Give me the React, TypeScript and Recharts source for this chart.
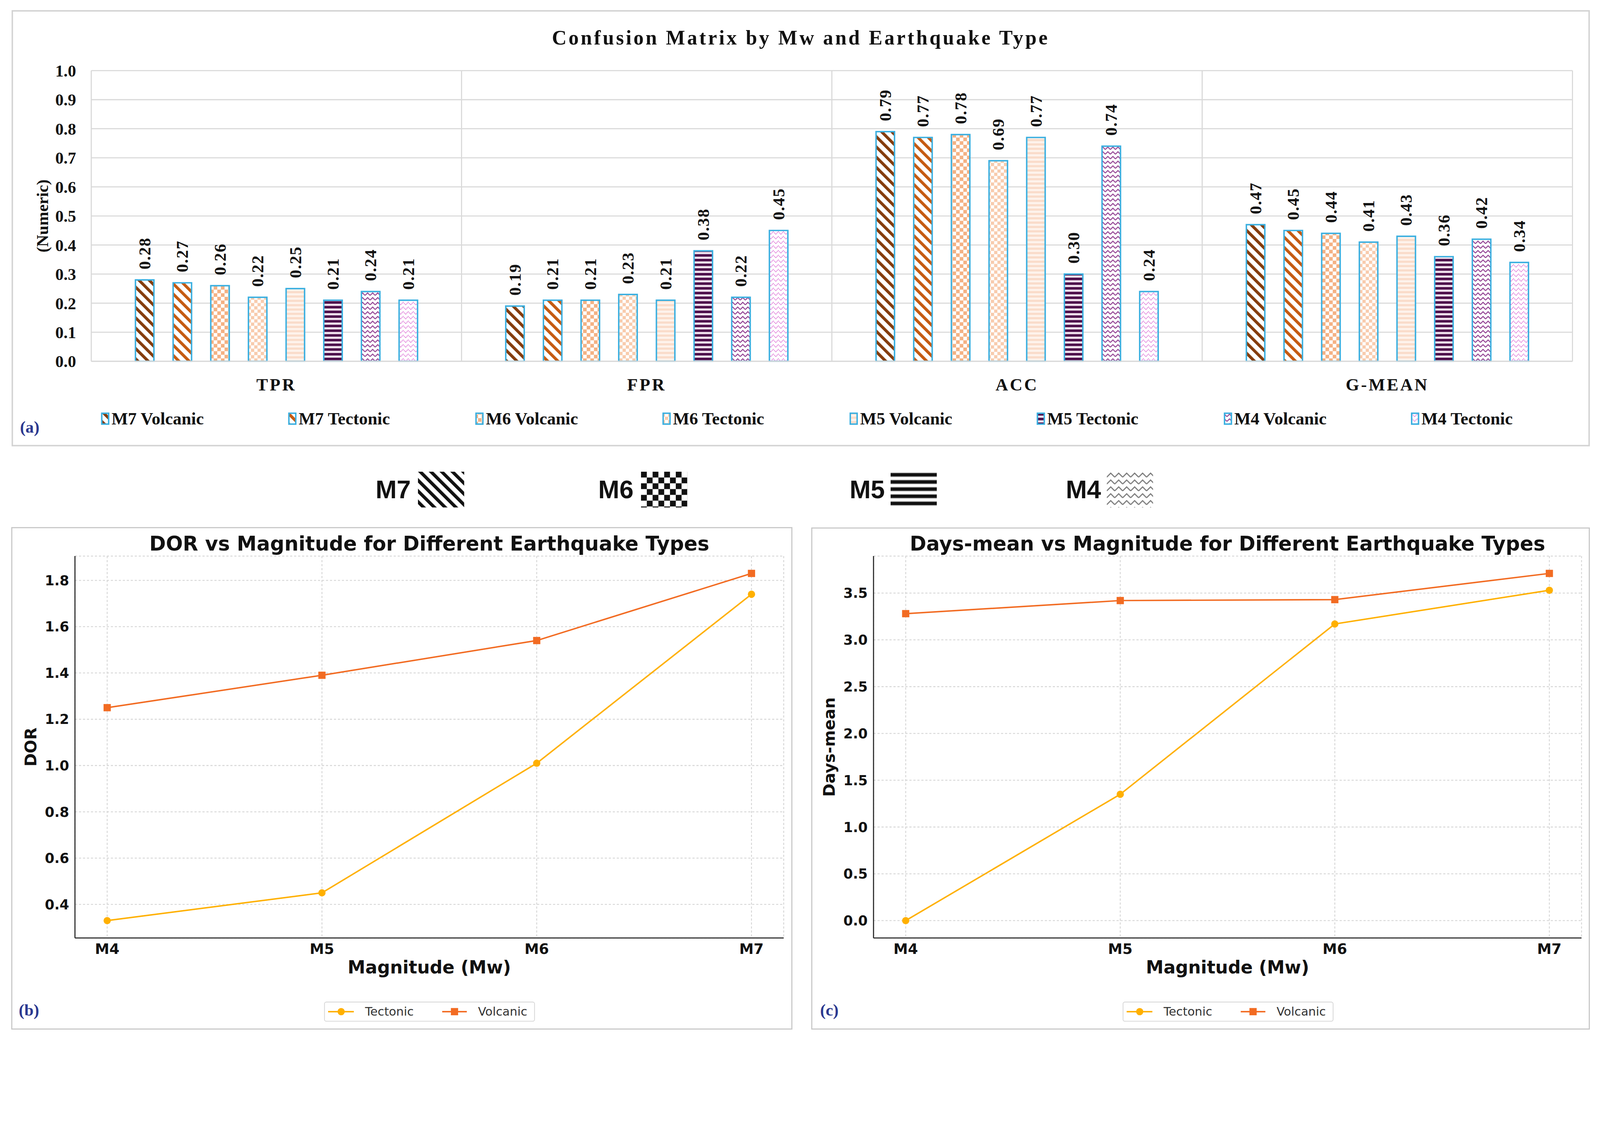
import React from 'react';
import {
  BarChart, Bar, XAxis, YAxis, CartesianGrid, LabelList, Legend, Label,
  LineChart, Line,
} from 'recharts';

// ---------------- data ----------------
const metrics = ['TPR', 'FPR', 'ACC', 'G-MEAN'];
const seriesNames = ['M7 Volcanic', 'M7 Tectonic', 'M6 Volcanic', 'M6 Tectonic', 'M5 Volcanic', 'M5 Tectonic', 'M4 Volcanic', 'M4 Tectonic'];
const m7Volcanic = [0.28, 0.19, 0.79, 0.47];
const m7Tectonic = [0.27, 0.21, 0.77, 0.45];
const m6Volcanic = [0.26, 0.21, 0.78, 0.44];
const m6Tectonic = [0.22, 0.23, 0.69, 0.41];
const m5Volcanic = [0.25, 0.21, 0.77, 0.43];
const m5Tectonic = [0.21, 0.38, 0.30, 0.36];
const m4Volcanic = [0.24, 0.22, 0.74, 0.42];
const m4Tectonic = [0.21, 0.45, 0.24, 0.34];
const barTicks = [0, 0.1, 0.2, 0.3, 0.4, 0.5, 0.6, 0.7, 0.8, 0.9, 1.0];

const magnitudes = ['M4', 'M5', 'M6', 'M7'];
const dorTectonic = [0.33, 0.45, 1.01, 1.74];
const dorVolcanic = [1.25, 1.39, 1.54, 1.83];
const daysTectonic = [0.0, 1.35, 3.17, 3.53];
const daysVolcanic = [3.28, 3.42, 3.43, 3.71];
const dorTicks = [0.4, 0.6, 0.8, 1.0, 1.2, 1.4, 1.6, 1.8];
const daysTicks = [0, 0.5, 1.0, 1.5, 2.0, 2.5, 3.0, 3.5];
const keyLabels = ['M7', 'M6', 'M5', 'M4'];

// ---------------- styles ----------------
const SERIF = "'Liberation Serif', 'Times New Roman', serif";
const SANS = "'DejaVu Sans', 'Liberation Sans', sans-serif";
const ARIAL = "'Liberation Sans', Arial, sans-serif";
const BAR_STROKE = '#3AAFE0';
const TECT = '#FFB000';
const VOLC = '#F26B22';
const NAVY = '#2B3990';
const seriesPatterns = ['pM7V', 'pM7T', 'pM6V', 'pM6T', 'pM5V', 'pM5T', 'pM4V', 'pM4T'];
const keyPatterns = ['kM7', 'kM6', 'kM5', 'kM4'];

const seriesValues = [m7Volcanic, m7Tectonic, m6Volcanic, m6Tectonic, m5Volcanic, m5Tectonic, m4Volcanic, m4Tectonic];
const barData = metrics.map((metric, i) => {
  const row: any = { metric };
  seriesNames.forEach((n, k) => { row[n] = seriesValues[k][i]; });
  return row;
});
const dorData = magnitudes.map((m, i) => ({ idx: i, mag: m, tectonic: dorTectonic[i], volcanic: dorVolcanic[i] }));
const daysData = magnitudes.map((m, i) => ({ idx: i, mag: m, tectonic: daysTectonic[i], volcanic: daysVolcanic[i] }));

const PatternDefs = () => (
  <svg width={0} height={0} style={{ position: 'absolute', left: 0, top: 0 }}>
    <defs>
      <pattern id="pM7V" patternUnits="userSpaceOnUse" width={20} height={20} patternTransform="rotate(-45)">
        <rect width={20} height={20} fill="#fff" />
        <rect width={8} height={20} fill="#843C0C" />
      </pattern>
      <pattern id="pM7T" patternUnits="userSpaceOnUse" width={20} height={20} patternTransform="rotate(-45)">
        <rect width={20} height={20} fill="#fff" />
        <rect width={8} height={20} fill="#C55A11" />
      </pattern>
      <pattern id="pM6V" patternUnits="userSpaceOnUse" width={20} height={20}>
        <rect width={20} height={20} fill="#fff" />
        <rect width={10} height={10} fill="#F4B183" />
        <rect x={10} y={10} width={10} height={10} fill="#F4B183" />
      </pattern>
      <pattern id="pM6T" patternUnits="userSpaceOnUse" width={18} height={18}>
        <rect width={18} height={18} fill="#fff" />
        <rect width={9} height={9} fill="#F8CBAD" />
        <rect x={9} y={9} width={9} height={9} fill="#F8CBAD" />
      </pattern>
      <pattern id="pM5V" patternUnits="userSpaceOnUse" width={12} height={12}>
        <rect width={12} height={12} fill="#FEF3EC" />
        <rect width={12} height={6} fill="#FADCCA" />
      </pattern>
      <pattern id="pM5T" patternUnits="userSpaceOnUse" width={13} height={13}>
        <rect width={13} height={13} fill="#F1E3EE" />
        <rect width={13} height={7} fill="#4D0F4B" />
      </pattern>
      <pattern id="pM4V" patternUnits="userSpaceOnUse" width={14} height={13}>
        <rect width={14} height={13} fill="#fff" />
        <polyline points="0,10 7,3 14,10" fill="none" stroke="#8E3A8E" strokeWidth={2.5} />
      </pattern>
      <pattern id="pM4T" patternUnits="userSpaceOnUse" width={14} height={13}>
        <rect width={14} height={13} fill="#fff" />
        <polyline points="0,10 7,3 14,10" fill="none" stroke="#E07FDA" strokeWidth={2.5} strokeDasharray="3 1.5" />
      </pattern>
      <pattern id="kM7" patternUnits="userSpaceOnUse" width={21} height={21} patternTransform="rotate(-45)">
        <rect width={21} height={21} fill="#fff" />
        <rect width={9} height={21} fill="#111" />
      </pattern>
      <pattern id="kM6" patternUnits="userSpaceOnUse" width={32} height={32}>
        <rect width={32} height={32} fill="#fff" />
        <rect width={16} height={16} fill="#111" />
        <rect x={16} y={16} width={16} height={16} fill="#111" />
      </pattern>
      <pattern id="kM5" patternUnits="userSpaceOnUse" width={20} height={19.8}>
        <rect width={20} height={19.8} fill="#fff" />
        <rect y={2} width={20} height={13} fill="#bbb" />
        <rect y={4} width={20} height={9} fill="#111" />
      </pattern>
      <pattern id="kM4" patternUnits="userSpaceOnUse" width={22} height={19}>
        <rect width={22} height={19} fill="#fff" />
        <polyline points="0,15 11,4 22,15" fill="none" stroke="#777" strokeWidth={3} />
      </pattern>
    </defs>
  </svg>
);

const BarLabel = (p: any) => {
  const cx = Number(p.x) + Number(p.width) / 2;
  const top = Number(p.y) - 29;
  return (
    <text x={cx} y={top} transform={`rotate(-90 ${cx} ${top})`} textAnchor="start" dominantBaseline="central"
      fontFamily={SERIF} fontWeight="bold" fontSize={46} letterSpacing={2} fill="#111">
      {Number(p.value).toFixed(2)}
    </text>
  );
};

const CatTick = (p: any) => (
  <text x={p.x} y={Number(p.y) + 81} textAnchor="middle" fontFamily={SERIF} fontWeight="bold" fontSize={48} letterSpacing={5} fill="#111">
    {p.payload.value}
  </text>
);

const ConfusionChart = () => (
  <BarChart width={4418} height={1240} data={barData} margin={{ top: 195, right: 76, bottom: 142, left: 40 }} barGap={53}>
    <CartesianGrid stroke="#d9d9d9" strokeWidth={3}
      verticalCoordinatesGenerator={(args: any) => {
        const o = args.offset;
        return [0, 1, 2, 3, 4].map((i) => o.left + (i * o.width) / 4);
      }} />
    <XAxis dataKey="metric" interval={0} height={100} tickLine={false} tickSize={0} tickMargin={0}
      axisLine={{ stroke: '#d9d9d9', strokeWidth: 3 }} tick={<CatTick />} />
    <YAxis type="number" domain={[0, 1]} ticks={barTicks} interval={0} width={212} tickLine={false} tickSize={0} tickMargin={42}
      axisLine={false} tickFormatter={(v: number) => v.toFixed(1)}
      tick={{ fontFamily: SERIF, fontWeight: 'bold', fontSize: 46, fill: '#111' }}>
      <Label content={(p: any) => {
        const vb = p.viewBox || { x: 40, y: 195, width: 212, height: 803 };
        const x = vb.x + 77;
        const y = vb.y + vb.height / 2;
        return (
          <text x={x} y={y} transform={`rotate(-90 ${x} ${y})`} textAnchor="middle" dominantBaseline="central"
            fontFamily={SERIF} fontWeight="bold" fontSize={46} fill="#111">(Numeric)</text>
        );
      }} />
    </YAxis>
    {seriesNames.map((n, i) => (
      <Bar key={n} dataKey={n} name={n} fill={`url(#${seriesPatterns[i]})`} stroke={BAR_STROKE} strokeWidth={4}
        barSize={51} isAnimationActive={false}>
        <LabelList dataKey={n} content={<BarLabel />} />
      </Bar>
    ))}
    <Legend verticalAlign="middle" align="center" layout="horizontal"
      wrapperStyle={{ position: 'absolute', left: 0, top: 1115, width: 4418, height: 80 }}
      content={() => (
        <svg width={4418} height={80}>
          {seriesNames.map((n, i) => {
            const x0 = 281 + i * 516.7;
            return (
              <g key={n}>
                <rect x={x0} y={26.5} width={19} height={30} fill={`url(#${seriesPatterns[i]})`} stroke={BAR_STROKE} strokeWidth={4} />
                <text x={x0 + 27} y={57} fontFamily={SERIF} fontWeight="bold" fontSize={48} fill="#111">{n}</text>
              </g>
            );
          })}
        </svg>
      )} />
  </BarChart>
);

const SquareDot = (p: any) => {
  if (p.cx == null || p.cy == null) return null;
  return <rect key={`sq-${p.index}`} x={p.cx - 10} y={p.cy - 10} width={20} height={20} fill={VOLC} />;
};

const LineLegend = () => (
  <div style={{ width: 582, height: 55, boxSizing: 'border-box', border: '2px solid #d4d4d4', borderRadius: 6, background: '#fff', position: 'relative' }}>
    <svg width={578} height={51} style={{ position: 'absolute', left: 0, top: 0 }}>
      <line x1={9} x2={80} y1={25.5} y2={25.5} stroke={TECT} strokeWidth={4} />
      <circle cx={45} cy={25.5} r={10} fill={TECT} />
      <text x={111} y={25.5} dominantBaseline="central" fontFamily={SANS} fontSize={33} fill="#333">Tectonic</text>
      <line x1={324} x2={392} y1={25.5} y2={25.5} stroke={VOLC} strokeWidth={4} />
      <rect x={348} y={15.5} width={20} height={20} fill={VOLC} />
      <text x={423} y={25.5} dominantBaseline="central" fontFamily={SANS} fontSize={33} fill="#333">Volcanic</text>
    </svg>
  </div>
);

const LinePanel = (props: { data: any[]; yTicks: number[]; yDomain: number[]; yLabel: string; width: number; marginLeft: number; marginRight: number; legendLeft: number }) => {
  const { data, yTicks, yDomain, yLabel, width, marginLeft, marginRight, legendLeft } = props;
  return (
    <LineChart width={width} height={1430} data={data} margin={{ top: 96, right: marginRight, bottom: 219, left: marginLeft }}>
      <CartesianGrid stroke="#d6d6d6" strokeWidth={2.5} strokeDasharray="6 5" />
      <XAxis type="number" dataKey="idx" domain={[-0.15, 3.15]} ticks={[0, 1, 2, 3]} allowDataOverflow interval={0}
        tickFormatter={(v: number) => magnitudes[v]} height={60} tickLine={false} tickSize={0} tickMargin={16}
        axisLine={{ stroke: '#262626', strokeWidth: 3 }}
        tick={{ fontFamily: SANS, fontWeight: 'bold', fontSize: 40, fill: '#111' }}>
        <Label content={(p: any) => {
          const vb = p.viewBox;
          const x = vb.x + vb.width / 2;
          const y = vb.y + 98;
          return <text x={x} y={y} textAnchor="middle" fontFamily={SANS} fontWeight="bold" fontSize={49} fill="#111">Magnitude (Mw)</text>;
        }} />
      </XAxis>
      <YAxis type="number" domain={yDomain} ticks={yTicks} allowDataOverflow interval={0} width={120}
        tickLine={false} tickSize={0} tickMargin={16} axisLine={{ stroke: '#262626', strokeWidth: 3 }}
        tickFormatter={(v: number) => v.toFixed(1)}
        tick={{ fontFamily: SANS, fontWeight: 'bold', fontSize: 38, fill: '#111' }}>
        <Label content={(p: any) => {
          const vb = p.viewBox;
          const x = vb.x + vb.width - 122;
          const y = vb.y + vb.height / 2;
          return (
            <text x={x} y={y} transform={`rotate(-90 ${x} ${y})`} textAnchor="middle" dominantBaseline="central"
              fontFamily={SANS} fontWeight="bold" fontSize={44} fill="#111">{yLabel}</text>
          );
        }} />
      </YAxis>
      <Line dataKey="tectonic" name="Tectonic" stroke={TECT} strokeWidth={4}
        dot={{ r: 10, fill: TECT, stroke: TECT, strokeWidth: 0 }} isAnimationActive={false} />
      <Line dataKey="volcanic" name="Volcanic" stroke={VOLC} strokeWidth={4} dot={<SquareDot />} isAnimationActive={false} />
      <Legend verticalAlign="middle" align="center" layout="horizontal"
        wrapperStyle={{ position: 'absolute', left: legendLeft, top: 1327, width: 582, height: 55 }}
        content={() => <LineLegend />} />
    </LineChart>
  );
};

const abs = (s: React.CSSProperties): React.CSSProperties => ({ position: 'absolute', ...s });

export default function App() {
  const vw = typeof window !== 'undefined' ? window.innerWidth : 4418;
  const k = vw > 0 && vw < 4418 ? vw / 4418 : 1;
  const keyText = [1037, 1652, 2346, 2943];
  const keySwatch = [1154, 1770, 2459, 3056];
  return (
    <div style={{ position: 'relative', width: 4418 * k, height: 2876 * k, overflow: 'hidden', background: '#fff' }}>
      <style>{`html,body{margin:0;padding:0;background:#fff;overflow:hidden;}`}</style>
      <PatternDefs />
      <div style={{ position: 'absolute', left: 0, top: 0, width: 4418, height: 2876, background: '#fff', transform: `scale(${k})`, transformOrigin: '0 0' }}>
        {/* panel frames */}
        <div style={abs({ left: 32, top: 28, width: 4358, height: 1205, border: '4px solid #d3d3d3', boxSizing: 'border-box' })} />
        <div style={abs({ left: 31, top: 1456, width: 2157, height: 1388, border: '3px solid #c6c6c6', boxSizing: 'border-box' })} />
        <div style={abs({ left: 2240, top: 1457, width: 2150, height: 1387, border: '3px solid #c6c6c6', boxSizing: 'border-box' })} />

        {/* panel (a) */}
        <div style={abs({ left: 32, top: 64, width: 4358, height: 80, lineHeight: '80px', textAlign: 'center', fontFamily: SERIF, fontWeight: 'bold', fontSize: 56, letterSpacing: 5.5, color: '#111' })}>
          Confusion Matrix by Mw and Earthquake Type
        </div>
        <div style={abs({ left: 0, top: 0 })}><ConfusionChart /></div>
        <div style={abs({ left: 42, top: 1140, width: 80, height: 80, lineHeight: '80px', textAlign: 'center', fontFamily: SERIF, fontWeight: 'bold', fontSize: 46, color: NAVY })}>(a)</div>

        {/* magnitude pattern key */}
        {keyLabels.map((lab, i) => (
          <React.Fragment key={lab}>
            <div style={abs({ left: keyText[i], top: 1307, height: 90, lineHeight: '90px', fontFamily: ARIAL, fontWeight: 'bold', fontSize: 70, color: '#111' })}>{lab}</div>
            <svg style={abs({ left: keySwatch[i], top: 1303 })} width={128} height={99}>
              <rect width={128} height={99} fill={`url(#${keyPatterns[i]})`} />
            </svg>
          </React.Fragment>
        ))}

        {/* panel (b) */}
        <div style={abs({ left: 207, top: 1462, width: 1957, height: 80, lineHeight: '80px', textAlign: 'center', fontFamily: SANS, fontWeight: 'bold', fontSize: 55, color: '#111' })}>
          DOR vs Magnitude for Different Earthquake Types
        </div>
        <div style={abs({ left: 0, top: 1440 })}>
          <LinePanel data={dorData} yTicks={dorTicks} yDomain={[0.255, 1.905]} yLabel="DOR" width={2220} marginLeft={87} marginRight={56} legendLeft={895} />
        </div>
        <div style={abs({ left: 40, top: 2750, width: 80, height: 80, lineHeight: '80px', textAlign: 'center', fontFamily: SERIF, fontWeight: 'bold', fontSize: 46, color: NAVY })}>(b)</div>

        {/* panel (c) */}
        <div style={abs({ left: 2412, top: 1462, width: 1955, height: 80, lineHeight: '80px', textAlign: 'center', fontFamily: SANS, fontWeight: 'bold', fontSize: 55, color: '#111' })}>
          Days-mean vs Magnitude for Different Earthquake Types
        </div>
        <div style={abs({ left: 2220, top: 1440 })}>
          <LinePanel data={daysData} yTicks={daysTicks} yDomain={[-0.1855, 3.8955]} yLabel="Days-mean" width={2198} marginLeft={72} marginRight={51} legendLeft={880} />
        </div>
        <div style={abs({ left: 2250, top: 2750, width: 80, height: 80, lineHeight: '80px', textAlign: 'center', fontFamily: SERIF, fontWeight: 'bold', fontSize: 46, color: NAVY })}>(c)</div>
      </div>
    </div>
  );
}
